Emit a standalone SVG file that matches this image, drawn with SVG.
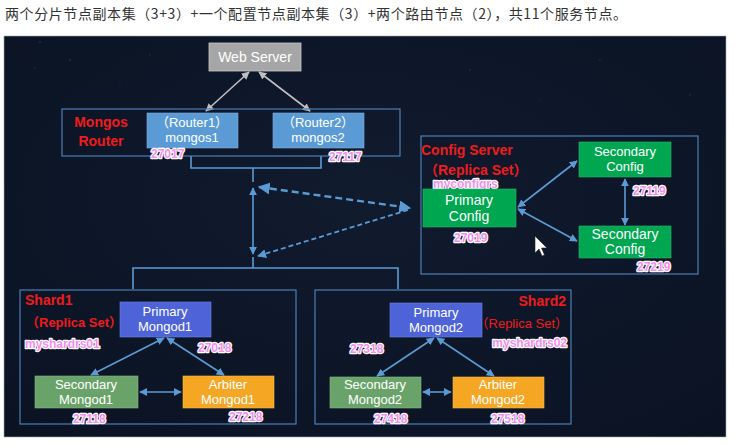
<svg xmlns="http://www.w3.org/2000/svg" width="735" height="446" viewBox="0 0 735 446">
<defs>
<style>
.title{font-family:"Noto Sans CJK SC","Noto Sans",sans-serif;font-size:14px;fill:#333}
.cont{fill:none;stroke:#4a7fb5;stroke-width:1.2}
.bt{font-family:"Liberation Sans","Noto Sans CJK SC",sans-serif;font-size:13px;fill:#fff;text-anchor:middle}
.red{font-family:"Liberation Sans","Noto Sans CJK SC",sans-serif;font-weight:bold;font-size:14px;fill:#ee1c1c}
.port{font-family:"Liberation Sans",sans-serif;font-weight:bold;font-size:12px;fill:#f28df2;stroke:#fff;stroke-width:2.4;paint-order:stroke;stroke-linejoin:round}
.ln{fill:none;stroke:#5b9bd5;stroke-width:1.6}
.ar{fill:none;stroke:#5b9bd5;stroke-width:1.6;marker-start:url(#ab);marker-end:url(#ab)}
.gar{fill:none;stroke:#bfbfbf;stroke-width:1.6;marker-start:url(#ag);marker-end:url(#ag)}
</style>
<marker id="ab" viewBox="0 0 10 10" refX="9" refY="5" markerWidth="5" markerHeight="5" orient="auto-start-reverse"><path d="M0,0L10,5L0,10z" fill="#5b9bd5"/></marker>
<marker id="ag" viewBox="0 0 10 10" refX="9" refY="5" markerWidth="5" markerHeight="5" orient="auto-start-reverse"><path d="M0,0L10,5L0,10z" fill="#bfbfbf"/></marker>
<radialGradient id="bg" cx="0.5" cy="0.4" r="0.8"><stop offset="0" stop-color="#111b2e"/><stop offset="1" stop-color="#0a1222"/></radialGradient>
</defs>
<rect width="735" height="446" fill="#fff"/>
<text class="title" x="5" y="19" textLength="622" lengthAdjust="spacing">两个分片节点副本集（3+3）+一个配置节点副本集（3）+两个路由节点（2），共11个服务节点。</text>
<rect x="4" y="36" width="722" height="401" fill="url(#bg)" stroke="#9aa" stroke-width="0.6"/>
<g fill="#3a4a66" opacity="0.7">
<circle cx="40" cy="42" r="0.8"/><circle cx="70" cy="60" r="0.8"/><circle cx="35" cy="68" r="0.7"/><circle cx="150" cy="55" r="0.7"/><circle cx="120" cy="85" r="0.6"/><circle cx="470" cy="70" r="0.7"/><circle cx="600" cy="60" r="0.7"/><circle cx="690" cy="95" r="0.7"/><circle cx="540" cy="100" r="0.6"/><circle cx="360" cy="80" r="0.6"/>
</g>

<g id="connectors">
<line class="gar" x1="249" y1="72" x2="206" y2="111"/>
<line class="gar" x1="259" y1="72" x2="310" y2="111"/>
<path class="ln" d="M191,156V168H321V156"/>
<line class="ln" x1="253" y1="168" x2="253" y2="182"/>
<line class="ar" x1="253" y1="188" x2="253" y2="254"/>
<path class="ln" d="M253,257V268M133,289V268H398V289"/>
<line x1="259" y1="187" x2="410" y2="208" stroke="#5b9bd5" stroke-width="2.4" stroke-dasharray="7,4" marker-start="url(#ab)" marker-end="url(#ab)"/>
<line x1="408" y1="210" x2="258" y2="256" stroke="#5b9bd5" stroke-width="1.8" stroke-dasharray="5,3" marker-end="url(#ab)"/>
<line class="ar" x1="518" y1="207" x2="577" y2="161"/>
<line class="ar" x1="518" y1="209" x2="577" y2="241"/>
<line class="ar" x1="625" y1="179" x2="625" y2="225"/>
<line class="ar" x1="164" y1="338" x2="91" y2="375"/>
<line class="ar" x1="167" y1="338" x2="224" y2="375"/>
<line class="ar" x1="140" y1="392" x2="181" y2="392"/>
<line class="ar" x1="434" y1="338" x2="377" y2="376"/>
<line class="ar" x1="437" y1="338" x2="494" y2="376"/>
<line class="ar" x1="423" y1="392" x2="451" y2="392"/>
</g>

<g id="webserver">
<rect x="209" y="43" width="92" height="28" fill="#a6a6a6" stroke="#c8c8c8" stroke-width="0.8"/>
<text class="bt" x="255" y="62" style="font-size:14px">Web Server</text>
</g>

<g id="mongos-router">
<rect class="cont" x="62" y="109" width="338" height="47"/>
<text class="red" x="101" y="127" text-anchor="middle">Mongos</text>
<text class="red" x="101" y="146" text-anchor="middle">Router</text>
</g>
<g id="router1">
<rect x="147" y="113" width="91" height="35" fill="#5b9bd5" stroke="#7fb0e0" stroke-width="0.6"/>
<text class="bt" x="192" y="127">（Router1）</text>
<text class="bt" x="192" y="142">mongos1</text>
<text class="port" x="151" y="158">27017</text>
</g>
<g id="router2">
<rect x="273" y="113" width="91" height="35" fill="#5b9bd5" stroke="#7fb0e0" stroke-width="0.6"/>
<text class="bt" x="318" y="127">（Router2）</text>
<text class="bt" x="318" y="142">mongos2</text>
<text class="port" x="329" y="161">27117</text>
</g>

<g id="config-server">
<rect class="cont" x="421" y="136" width="277" height="138"/>
<text class="red" x="421" y="155">Config Server</text>
<text class="red" x="424" y="175">（Replica Set）</text>
<text class="port" x="433" y="188">myconfigrs</text>
</g>
<g id="primary-config">
<rect x="423" y="189" width="93" height="38" fill="#00a650" stroke="#2bb86a" stroke-width="0.6"/>
<text class="bt" x="469" y="205" style="font-size:14px">Primary</text>
<text class="bt" x="469" y="221" style="font-size:14px">Config</text>
<text class="port" x="454" y="242">27019</text>
</g>
<g id="secondary-config1">
<rect x="579" y="142" width="92" height="35" fill="#00a650" stroke="#2bb86a" stroke-width="0.6"/>
<text class="bt" x="625" y="156">Secondary</text>
<text class="bt" x="625" y="171">Config</text>
<text class="port" x="633" y="195">27119</text>
</g>
<g id="secondary-config2">
<rect x="579" y="226" width="92" height="32" fill="#00a650" stroke="#2bb86a" stroke-width="0.6"/>
<text class="bt" x="625" y="239" style="font-size:14px">Secondary</text>
<text class="bt" x="625" y="254" style="font-size:14px">Config</text>
<text class="port" x="637" y="271">27219</text>
</g>

<g id="shard1">
<rect class="cont" x="20" y="290" width="276" height="134"/>
<text class="red" x="25" y="305">Shard1</text>
<text class="red" x="26" y="327" style="font-size:13px">（Replica Set）</text>
<text class="port" x="25" y="348">myshardrs01</text>
</g>
<g id="primary-mongod1">
<rect x="120" y="302" width="91" height="35" fill="#4e63d8" stroke="#6f82e6" stroke-width="0.6"/>
<text class="bt" x="165" y="316">Primary</text>
<text class="bt" x="165" y="331">Mongod1</text>
<text class="port" x="198" y="352">27018</text>
</g>
<g id="secondary-mongod1">
<rect x="35" y="376" width="103" height="32" fill="#6aa36a" stroke="#85b885" stroke-width="0.6"/>
<text class="bt" x="86" y="389">Secondary</text>
<text class="bt" x="86" y="404">Mongod1</text>
<text class="port" x="73" y="423">27118</text>
</g>
<g id="arbiter-mongod1">
<rect x="183" y="376" width="91" height="32" fill="#f5a623" stroke="#f8bb55" stroke-width="0.6"/>
<text class="bt" x="228" y="389">Arbiter</text>
<text class="bt" x="228" y="404">Mongod1</text>
<text class="port" x="229" y="421">27218</text>
</g>

<g id="shard2">
<rect class="cont" x="315" y="290" width="256" height="134"/>
<text class="red" x="566" y="306" text-anchor="end">Shard2</text>
<text class="red" x="568" y="328" text-anchor="end" style="font-weight:normal;font-size:13px">（Replica Set）</text>
<text class="port" x="567" y="347" text-anchor="end">myshardrs02</text>
</g>
<g id="primary-mongod2">
<rect x="390" y="303" width="92" height="34" fill="#4e63d8" stroke="#6f82e6" stroke-width="0.6"/>
<text class="bt" x="436" y="317">Primary</text>
<text class="bt" x="436" y="332">Mongod2</text>
<text class="port" x="350" y="353">27318</text>
</g>
<g id="secondary-mongod2">
<rect x="330" y="377" width="91" height="31" fill="#6aa36a" stroke="#85b885" stroke-width="0.6"/>
<text class="bt" x="375" y="389">Secondary</text>
<text class="bt" x="375" y="404">Mongod2</text>
<text class="port" x="374" y="423">27418</text>
</g>
<g id="arbiter-mongod2">
<rect x="453" y="377" width="91" height="31" fill="#f5a623" stroke="#f8bb55" stroke-width="0.6"/>
<text class="bt" x="498" y="389">Arbiter</text>
<text class="bt" x="498" y="404">Mongod2</text>
<text class="port" x="491" y="423">27518</text>
</g>

<path d="M535,236L535,253L539,249L542,256L544.5,255L541.5,248L547,248Z" fill="#fff" stroke="#222" stroke-width="0.6"/>
</svg>
